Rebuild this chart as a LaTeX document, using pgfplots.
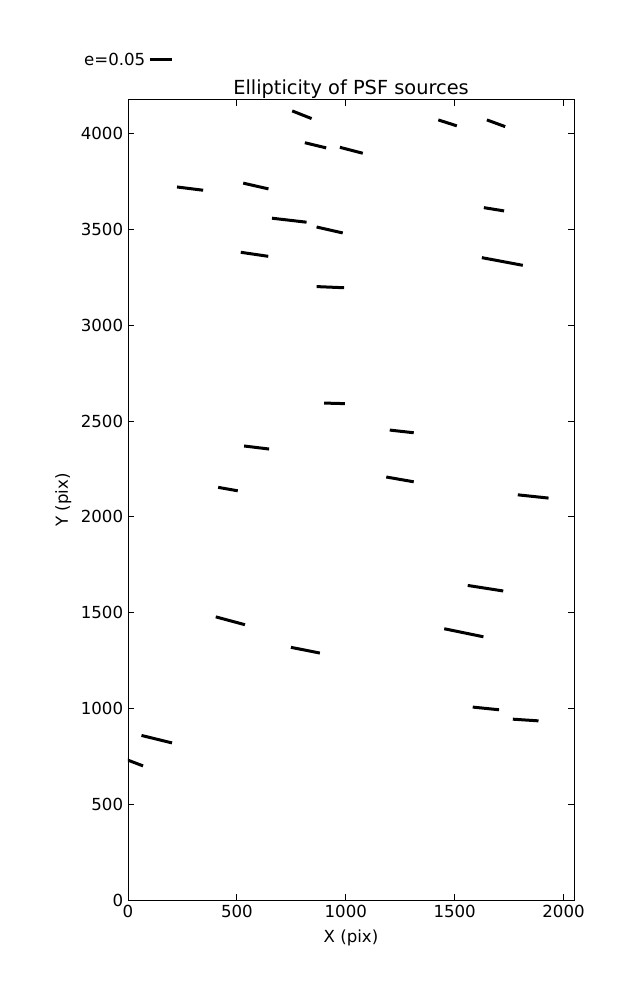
\documentclass[border=0pt]{standalone}
\usepackage{pgfplots}
\pgfplotsset{compat=1.18}
\usepackage{fontspec}
\setmainfont{DejaVu Sans}
\pgfplotstableread{
x y
754 4119
843 4079
nan nan
812 3953
910 3926
nan nan
973 3929
1078 3898
nan nan
225 3722
345 3705
nan nan
529 3742
645 3712
nan nan
661 3559
820 3538
nan nan
866 3513
986 3482
nan nan
518 3381
644 3360
nan nan
866 3202
992 3196
nan nan
1425 4072
1510 4041
nan nan
1648 4072
1732 4037
nan nan
1634 3614
1727 3597
nan nan
1625 3353
1813 3313
nan nan
901 2594
996 2591
nan nan
1202 2453
1312 2439
nan nan
533 2370
648 2354
nan nan
1186 2208
1312 2183
nan nan
414 2154
504 2136
nan nan
1790 2115
1931 2098
nan nan
1560 1642
1723 1613
nan nan
403 1478
537 1437
nan nan
1452 1416
1632 1374
nan nan
748 1319
881 1289
nan nan
1583 1007
1704 993
nan nan
1767 944
1885 935
nan nan
62 859
202 820
nan nan
-30 743
69 700
}\segs
\begin{document}
\begin{tikzpicture}
\useasboundingbox (-1.28in,-1in) rectangle (5.09in,9in);
\begin{axis}[
  scale only axis,
  width=4.46in, height=8in,
  xmin=0, xmax=2048, ymin=0, ymax=4176,
  xtick={0,500,1000,1500,2000},
  ytick={0,500,1000,1500,2000,2500,3000,3500,4000},
  tick align=inside,
  major tick length=0.056in,
  axis line style={line width=0.72pt},
  every tick/.style={black, line width=0.72pt},
  scaled ticks=false,
  /pgf/number format/assume math mode=true,
  /pgf/number format/1000 sep={},
  ticklabel style={font=\fontsize{12}{14}\selectfont},
  label style={font=\fontsize{12}{14}\selectfont},
  xlabel style={yshift=-2pt},
  title style={font=\fontsize{14}{16}\selectfont, yshift=-8.5pt},
  title={Ellipticity of PSF sources},
  xlabel={X (pix)}, ylabel={Y (pix)},
  unbounded coords=jump,
  legend plot pos=right,
  legend style={draw=none, fill=none, at={(-0.105,1.05)}, anchor=west, inner sep=0pt, font=\fontsize{12}{14}\selectfont},
  legend image code/.code={\draw[#1] (0in,0in) -- (0.22in,0in);},
]
\addplot[black, line width=0.03in, forget plot] table {\segs};
\addlegendimage{black, line width=0.03in}
\addlegendentry{e=0.05}
\end{axis}
\end{tikzpicture}
\end{document}
